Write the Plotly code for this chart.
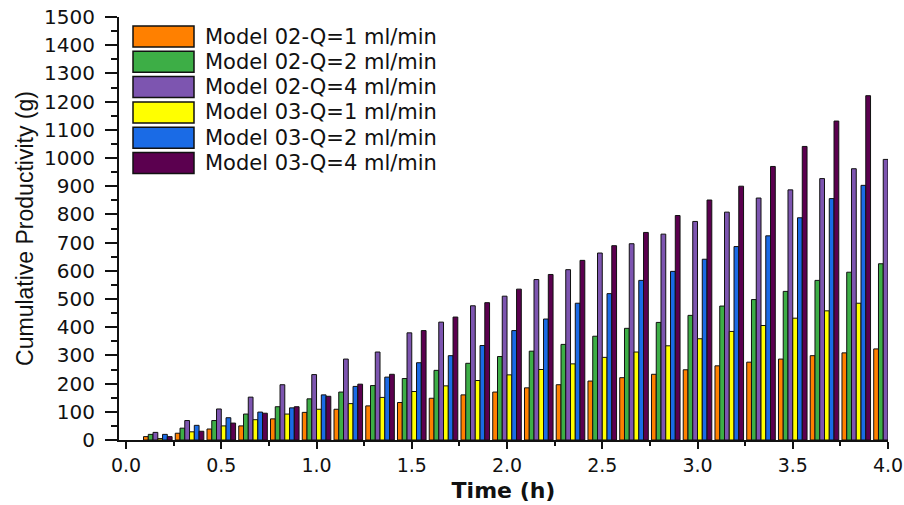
import plotly.graph_objects as go

# ---- data ----
time_min = [10, 20, 30, 40, 50, 60, 70, 80, 90, 100, 110, 120,
            130, 140, 150, 160, 170, 180, 190, 200, 210, 220, 230, 240]

series_names = ["Model 02-Q=1 ml/min", "Model 02-Q=2 ml/min", "Model 02-Q=4 ml/min",
                "Model 03-Q=1 ml/min", "Model 03-Q=2 ml/min", "Model 03-Q=4 ml/min"]

m02_q1 = [12, 24, 39, 50, 75, 98, 109, 121, 133, 148, 160, 170,
          185, 196, 209, 221, 233, 249, 263, 276, 287, 299, 309, 323]
m02_q2 = [20, 42, 69, 92, 118, 146, 170, 193, 218, 247, 272, 296,
          315, 339, 368, 396, 417, 442, 475, 498, 527, 566, 595, 625]
m02_q4 = [27, 69, 110, 152, 196, 232, 287, 312, 380, 418, 476, 510,
          569, 604, 663, 696, 730, 775, 808, 858, 887, 927, 962, 995]
m03_q1 = [5, 29, 50, 72, 92, 109, 129, 151, 172, 192, 211, 231,
          250, 270, 293, 312, 334, 359, 385, 406, 432, 458, 485, None]
m03_q2 = [20, 52, 79, 99, 114, 160, 190, 223, 274, 299, 335, 388,
          429, 485, 519, 566, 598, 641, 686, 724, 788, 856, 903, None]
m03_q4 = [12, 31, 60, 95, 118, 155, 198, 233, 388, 436, 487, 535,
          587, 637, 689, 736, 796, 851, 900, 970, 1041, 1131, 1221, None]

series_values = [m02_q1, m02_q2, m02_q4, m03_q1, m03_q2, m03_q4]
colors = ["#FF8000", "#3DAE46", "#7D55B0", "#FFFF00", "#1A6BE6", "#5B004F"]

x_ticks = [0.0, 0.5, 1.0, 1.5, 2.0, 2.5, 3.0, 3.5, 4.0]
y_ticks = list(range(0, 1600, 100))

time_h = [t / 60 for t in time_min]

fig = go.Figure()
for name, vals, col in zip(series_names, series_values, colors):
    fig.add_trace(go.Bar(x=time_h, y=vals, name=name,
                         marker=dict(color=col, line=dict(color="#111111", width=1)),
                         showlegend=False))

W, H = 904, 505
L, R, T, B = 119, 16, 17, 65
pw, ph = W - L - R, H - T - B

def px(xp):
    return (xp - L) / pw

def py(yp):
    return (H - B - yp) / ph

shapes = []
annotations = []
for i, (name, col) in enumerate(zip(series_names, colors)):
    top = 26 + i * 25.3
    shapes.append(dict(type="rect", xref="paper", yref="paper",
                       x0=px(133), x1=px(194), y0=py(top + 21), y1=py(top),
                       fillcolor=col, line=dict(color="#111111", width=1.5)))
    annotations.append(dict(xref="paper", yref="paper", x=px(204), y=py(top + 10.5),
                            xanchor="left", yanchor="middle", showarrow=False,
                            height=24, borderpad=0, valign="middle",
                            text=name, font=dict(family="DejaVu Sans", size=21, color="#111111")))

fig.update_layout(
    width=W, height=H,
    margin=dict(l=L, r=R, t=T, b=B),
    paper_bgcolor="white", plot_bgcolor="white",
    barmode="group", bargap=0.1, bargroupgap=0,
    shapes=shapes, annotations=annotations,
    xaxis=dict(range=[-0.037, 4.0], tickvals=x_ticks,
               ticktext=[f"{v:.1f}" for v in x_ticks],
               ticks="outside", ticklen=7, tickwidth=2, tickcolor="#111111",
               minor=dict(dtick=0.25, tick0=0, ticks="outside", ticklen=4, tickwidth=1.5, tickcolor="#111111"),
               showline=True, linecolor="#111111", linewidth=2, showgrid=False, zeroline=False,
               automargin=False,
               tickfont=dict(family="DejaVu Sans", size=19, color="#111111"),
               title=dict(text="<b>Time (h)</b>", font=dict(family="DejaVu Sans", size=22, color="#111111"),
                          standoff=8)),
    yaxis=dict(range=[0, 1500], tickvals=y_ticks,
               ticks="outside", ticklen=12, tickwidth=2, tickcolor="#111111",
               minor=dict(dtick=50, tick0=0, ticks="outside", ticklen=6, tickwidth=1.5, tickcolor="#111111"),
               showline=True, linecolor="#111111", linewidth=2, showgrid=False, zeroline=False,
               automargin=False, ticklabelstandoff=6,
               tickfont=dict(family="DejaVu Sans", size=20, color="#111111"),
               title=dict(text="Cumulative Productivity (g)",
                          font=dict(family="Liberation Sans", size=23, color="#111111"),
                          standoff=4)),
)

fig.write_html("out.html")
